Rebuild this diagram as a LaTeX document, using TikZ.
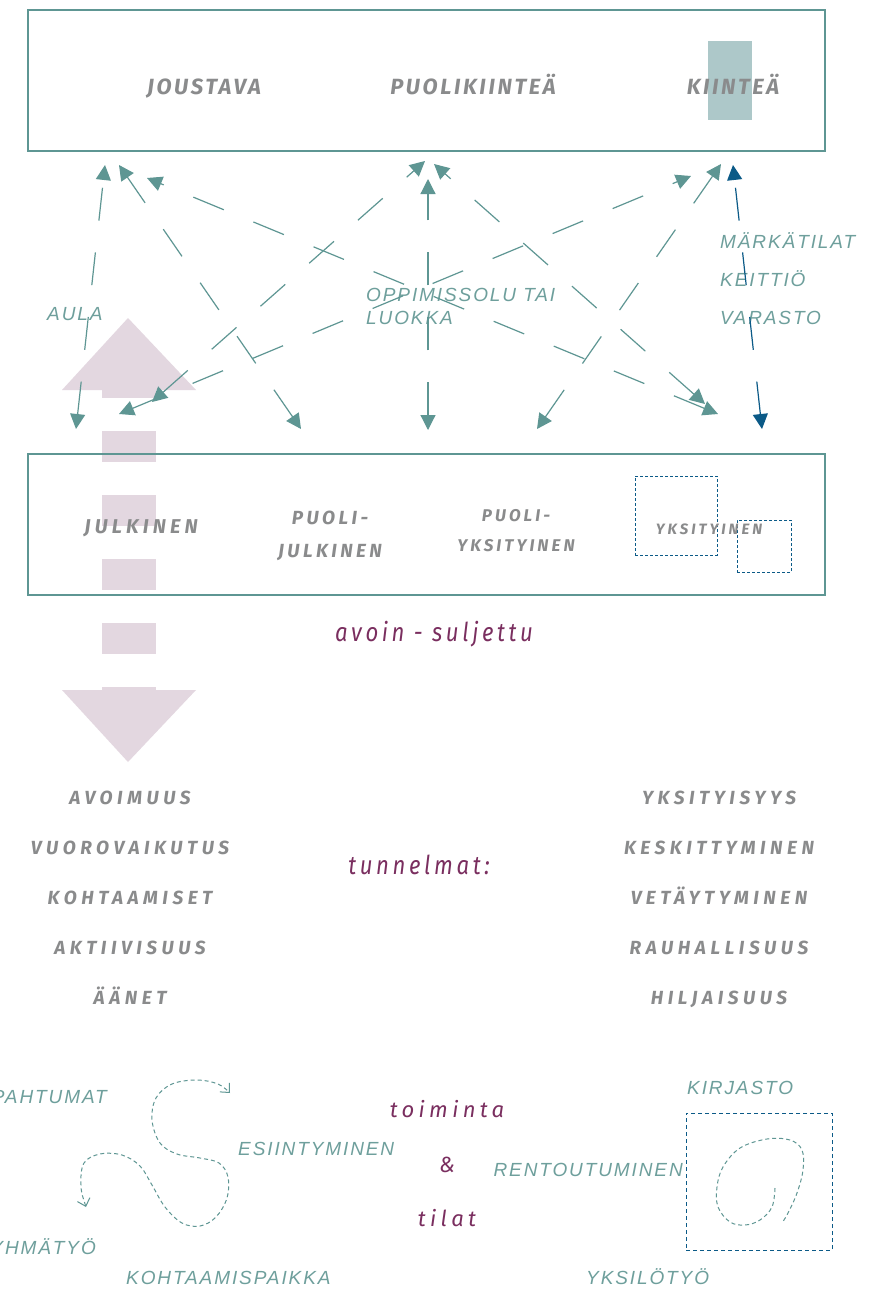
\documentclass[tikz,border=0pt]{standalone}
\usepackage{fontspec}
\usetikzlibrary{arrows.meta}
\newfontfamily\grayfont{Fira Sans}
\newfontfamily\labelfont{Liberation Sans}[LetterSpace=10]
\newfontfamily\moodfont{Fira Sans}[FakeStretch=0.85,LetterSpace=14]
\newfontfamily\actfont{Fira Sans}[LetterSpace=20]
\definecolor{frame}{HTML}{5E9693}
\definecolor{tealtext}{HTML}{6E9F9C}
\definecolor{graytext}{HTML}{8A8B8C}
\definecolor{deepblue}{HTML}{0B5A87}
\definecolor{mauve}{HTML}{E3D7E0}
\definecolor{plum}{HTML}{7A2E5F}
\definecolor{fixedfill}{HTML}{ADC8C9}
\newcommand\grayset[2]{\grayfont\addfontfeatures{LetterSpace=#2}\bfseries\itshape\fontsize{#1}{#1}\selectfont}
\begin{document}
\begin{tikzpicture}[x=1pt,y=-1pt,
  box/.style={draw=frame,line width=2pt,minimum width=797pt,minimum height=141pt,inner sep=0pt},
  graylbl/.style={text=graytext,inner sep=0pt,anchor=base,font=\grayset{22}{12}},
  listlbl/.style={graylbl,font=\grayset{19}{24}},
  graybig/.style={graylbl,font=\grayset{20}{21}},
  graysmall/.style={graylbl,font=\grayset{19}{18}},
  graytiny/.style={graylbl,font=\grayset{17}{18}},
  graymini/.style={graylbl,font=\grayset{15}{20}},
  teallbl/.style={text=tealtext,inner sep=0pt,font=\labelfont\itshape\fontsize{19}{23}\selectfont},
  moodlbl/.style={text=plum,inner sep=0pt,anchor=base,font=\moodfont\itshape\fontsize{26}{30}\selectfont},
  actlbl/.style={text=plum,inner sep=0pt,anchor=base,font=\actfont\itshape\fontsize{22}{26}\selectfont},
  link/.style={draw=frame,line width=1.2pt,dash pattern=on 33pt off 32pt,
    {Triangle[length=15pt,width=15pt]}-{Triangle[length=15pt,width=15pt]}},
  darklink/.style={link,draw=deepblue},
  zone/.style={draw=deepblue,line width=1pt,dash pattern=on 3pt off 2pt,inner sep=0pt},
  trail/.style={draw=frame,line width=1pt,dash pattern=on 4pt off 3pt}
]
\clip (0,0) rectangle (871,1290);
\fill[white] (0,0) rectangle (871,1290);

% double-headed open/closed arrow in the background
\fill[mauve] (128,318) -- (196,390) -- (62,390) -- cycle;
\fill[mauve] (102,390) rectangle (156,398);
\foreach \y in {431,495,559,623} {\fill[mauve] (102,\y) rectangle (156,\y+31);}
\fill[mauve] (102,687) rectangle (156,691);
\fill[mauve] (62,690) -- (196,690) -- (128,762) -- cycle;

% upper box: flexibility of spaces
\fill[fixedfill] (708,41) rectangle (752,120);
\node[box] (flexbox) at (426.5,80.5) {};
\node[graylbl] (joustava) at (204,94) {JOUSTAVA};
\node[graylbl] (puolikiintea) at (473,94) {PUOLIKIINTEÄ};
\node[graylbl] (kiintea) at (733,94) {KIINTEÄ};

% lower box: openness of spaces
\node[box] (openbox) at (426.5,524.5) {};
\node[graybig] (julkinen) at (141,533) {JULKINEN};
\node[graysmall] (pj1) at (330,524) {PUOLI-};
\node[graysmall] (pj2) at (330,557) {JULKINEN};
\node[graytiny] (py1) at (516,521) {PUOLI-};
\node[graytiny] (py2) at (516,551) {YKSITYINEN};
\node[zone,minimum width=82pt,minimum height=79pt] (zoneA) at (676,515.5) {};
\node[zone,minimum width=54pt,minimum height=52pt] (zoneB) at (764,546) {};
\node[graymini] (yksityinen) at (709,534) {YKSITYINEN};

% space types between the boxes
\node[teallbl,anchor=base west] (aula) at (47,320) {AULA};
\node[teallbl,anchor=base west] (oppi1) at (366,301) {OPPIMISSOLU TAI};
\node[teallbl,anchor=base west] (oppi2) at (366,324) {LUOKKA};
\node[teallbl,anchor=base west] (markat) at (720,248) {MÄRKÄTILAT};
\node[teallbl,anchor=base west] (keittio) at (720,286) {KEITTIÖ};
\node[teallbl,anchor=base west] (varasto) at (720,324) {VARASTO};

% end points of the links
\coordinate (t1) at (105,165); \coordinate (b1) at (76,429);
\coordinate (t2) at (119,165); \coordinate (b2) at (301,429);
\coordinate (t3) at (147,178); \coordinate (b3) at (718,414);
\coordinate (t4) at (691,176); \coordinate (b4) at (119,414);
\coordinate (t5) at (425,161); \coordinate (b5) at (152,402);
\coordinate (t6) at (428,179); \coordinate (b6) at (428,430);
\coordinate (t7) at (434,164); \coordinate (b7) at (705,404);
\coordinate (t8) at (721,164); \coordinate (b8) at (537,429);
\coordinate (t9) at (733,165); \coordinate (b9) at (762,429);
\draw[link] (b1) -- (t1);
\draw[link] (b2) -- (t2);
\draw[link] (b3) -- (t3);
\draw[link] (b4) -- (t4);
\draw[link] (b5) -- (t5);
\draw[link] (b6) -- (t6);
\draw[link] (b7) -- (t7);
\draw[link] (b8) -- (t8);
\draw[darklink] (b9) -- (t9);

\node[moodlbl] (avoin) at (434,641) {avoin - suljettu};

% atmospheres
\node[listlbl] (l1) at (130,804) {AVOIMUUS};
\node[listlbl] (l2) at (130,854) {VUOROVAIKUTUS};
\node[listlbl] (l3) at (130,904) {KOHTAAMISET};
\node[listlbl] (l4) at (130,954) {AKTIIVISUUS};
\node[listlbl] (l5) at (130,1004) {ÄÄNET};
\node[listlbl] (r1) at (719,804) {YKSITYISYYS};
\node[listlbl] (r2) at (719,854) {KESKITTYMINEN};
\node[listlbl] (r3) at (719,904) {VETÄYTYMINEN};
\node[listlbl] (r4) at (719,954) {RAUHALLISUUS};
\node[listlbl] (r5) at (719,1004) {HILJAISUUS};
\node[moodlbl] (tunnelmat) at (419,874) {tunnelmat:};

% activities and spaces
\node[actlbl] (toiminta) at (447,1117) {toiminta};
\node[actlbl] (et) at (447,1172) {\&};
\node[actlbl] (tilat) at (447,1226) {tilat};
\node[teallbl,anchor=base east] (tapahtumat) at (107,1103) {TAPAHTUMAT};
\node[teallbl,anchor=base west] (esiintyminen) at (238,1155) {ESIINTYMINEN};
\node[teallbl,anchor=base east] (ryhmatyo) at (96,1254) {RYHMÄTYÖ};
\node[teallbl,anchor=base west] (kohtaamis) at (126,1284) {KOHTAAMISPAIKKA};
\node[teallbl,anchor=base west] (kirjasto) at (687,1094) {KIRJASTO};
\node[teallbl,anchor=base east] (rentout) at (683,1176) {RENTOUTUMINEN};
\node[teallbl,anchor=base west] (yksilotyo) at (586,1284) {YKSILÖTYÖ};
\node[zone,dash pattern=on 4pt off 3pt,minimum width=146pt,minimum height=137pt] (library) at (759,1181.5) {};

\draw[trail,{Straight Barb[length=7pt,width=13pt]}-{Straight Barb[length=7pt,width=13pt]}]
  plot[smooth,tension=0.6] coordinates {(86,1207) (81,1185) (84,1163) (100,1154) (122,1155) (140,1166)
  (152,1185) (165,1207) (182,1223) (200,1226) (216,1217) (227,1198) (228,1177) (219,1163) (200,1158)
  (177,1154) (160,1143) (152,1120) (156,1098) (172,1084) (197,1080) (218,1084) (230,1093)};
\draw[trail] plot[smooth,tension=0.6] coordinates {(775,1188) (772,1207) (760,1220) (745,1225)
  (730,1222) (718,1207) (717,1187) (723,1167) (740,1148) (767,1139) (790,1140) (802,1150) (803,1170)
  (797,1193) (788,1213) (782,1223)};
\end{tikzpicture}
\end{document}
